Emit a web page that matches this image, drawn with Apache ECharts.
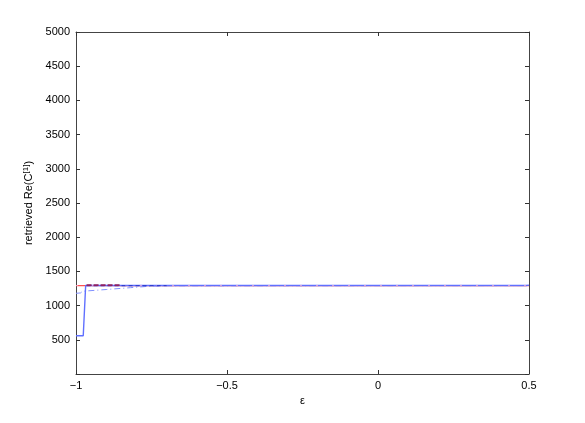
<!DOCTYPE html>
<html>
<head>
<meta charset="utf-8">
<script src="https://cdn.jsdelivr.net/npm/echarts@6/dist/echarts.min.js"></script>
<style>
  html, body { margin: 0; padding: 0; background: #fff; }
  #chart { width: 585px; height: 423px; }
</style>
</head>
<body>
<div id="chart"></div>
<script>
const xTicks = [-1, -0.5, 0, 0.5]
const yTicks = [500, 1000, 1500, 2000, 2500, 3000, 3500, 4000, 4500, 5000]

// values
const redSolid = [[-1, 1293], [-0.9, 1293], [-0.7, 1293], [0, 1293], [0.5, 1293]]
const redDashed = [[-1, 1293], [0.5, 1293]]
const darkRedDashed = [[-0.965, 1300], [-0.85, 1300]]
const blueSolid = [[-1, 560], [-0.976, 560], [-0.968, 1293], [-0.9, 1293], [-0.5, 1293], [0, 1293], [0.49, 1293], [0.5, 1300]]
const blueDashDot = [[-1, 1180], [-0.985, 1185], [-0.978, 1210], [-0.9, 1235], [-0.82, 1262], [-0.75, 1285], [-0.7, 1290], [0, 1292], [0.5, 1293]]
const blueDashed = [[-0.965, 1290], [-0.85, 1292], [-0.7, 1293]]

const fmt = v => String(v).replace('-', '\u2212')
const font = 'Liberation Sans, Arial, sans-serif'

const chart = echarts.init(document.getElementById('chart'))

const tickStyle = { show: true, inside: true, length: 4, lineStyle: { color: '#333' } }
const lineStyle = { show: true, onZero: false, lineStyle: { color: '#444' } }

const option = {
    animation: false,
    grid: { left: 76, right: 56, top: 32, bottom: 49 },
    xAxis: [
        {
            type: 'value', min: -1, max: 0.5, interval: 0.5,
            name: '\u03b5', nameLocation: 'middle', nameGap: 20,
            nameTextStyle: { fontFamily: font, fontSize: 11, color: '#000' },
            axisLine: lineStyle,
            axisTick: tickStyle,
            splitLine: { show: false },
            axisLabel: { fontFamily: font, fontSize: 11, color: '#000', margin: 6, formatter: fmt }
        },
        {
            type: 'value', min: -1, max: 0.5, interval: 0.5, position: 'top',
            axisLine: lineStyle,
            axisTick: tickStyle,
            splitLine: { show: false },
            axisLabel: { show: false }
        }
    ],
    yAxis: [
        {
            type: 'value', min: 0, max: 5000, interval: 500,
            name: '{n|retrieved Re(C}{s|[1]}{n|)}', nameLocation: 'middle', nameGap: 38,
            nameTextStyle: {
                rich: {
                    n: { fontFamily: font, fontSize: 11, color: '#000' },
                    s: { fontFamily: font, fontSize: 8, color: '#000', verticalAlign: 'top', padding: [0, 0, 6, 0] }
                }
            },
            axisLine: lineStyle,
            axisTick: tickStyle,
            splitLine: { show: false },
            axisLabel: {
                fontFamily: font, fontSize: 11, color: '#000', margin: 6,
                formatter: v => (yTicks.includes(v) ? String(v) : '')
            }
        },
        {
            type: 'value', min: 0, max: 5000, interval: 500, position: 'right',
            axisLine: lineStyle,
            axisTick: tickStyle,
            splitLine: { show: false },
            axisLabel: { show: false }
        }
    ],
    series: [
        { type: 'line', data: redSolid, symbol: 'none', z: 1, lineStyle: { color: '#ff5050', width: 1.2 } },
        { type: 'line', data: darkRedDashed, symbol: 'none', z: 6, lineStyle: { color: '#902060', width: 1.6, type: [5, 2] } },
        { type: 'line', data: blueDashDot, symbol: 'none', z: 2, lineStyle: { color: '#8090ff', width: 1, type: [6, 3, 1, 3] } },
        { type: 'line', data: blueSolid, symbol: 'none', z: 3, lineStyle: { color: '#6070ff', width: 1.4 } },
        { type: 'line', data: redDashed, symbol: 'none', z: 4, lineStyle: { color: '#f0a8d0', width: 0.8, type: [2, 14] } },
        { type: 'line', data: blueDashed, symbol: 'none', z: 5, lineStyle: { color: '#3040d0', width: 1.2, type: [4, 3] } }
    ]
}

chart.setOption(option)
</script>
</body>
</html>
